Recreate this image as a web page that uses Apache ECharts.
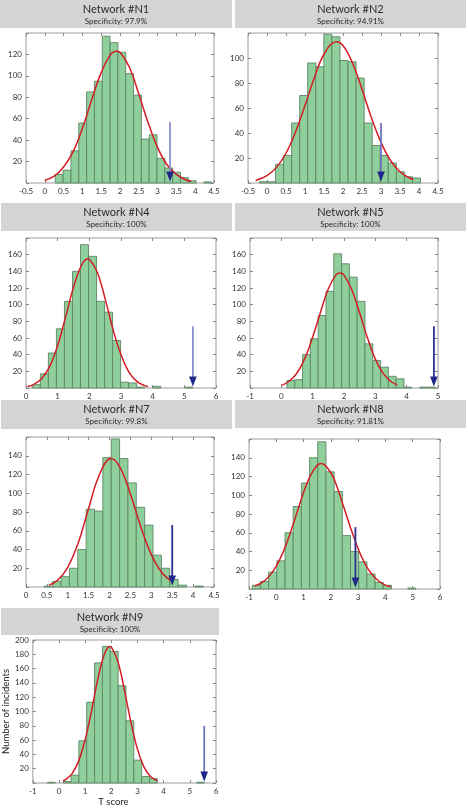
<!DOCTYPE html>
<html><head><meta charset="utf-8">
<script src="https://cdn.jsdelivr.net/npm/echarts@6/dist/echarts.min.js"></script>
<style>html,body{margin:0;padding:0;background:#fff}#c{width:468px;height:808px}</style>
</head><body><div id="c"></div>
<script>
// ---------- DATA ----------
const panelTitles = ['Network #N1','Network #N2','Network #N4','Network #N5','Network #N7','Network #N8','Network #N9'];
const panelSpecificity = ['Specificity: 97.9%','Specificity: 94.91%','Specificity: 100%','Specificity: 100%','Specificity: 99.8%','Specificity: 91.81%','Specificity: 100%'];

// histogram counts (bin start, bin width in T score units)
const n1Counts = [8,12,30,56,85,95,137,131,122,102,82,41,45,23,14,10,5,2,0,1];
const n1Bins = [0.28, 0.208];
const n2Counts = [1,1,15,22,48,70,96,93,119,117,98,97,84,48,30,22,16,9,5,4];
const n2Bins = [-0.2, 0.212];
const n4Counts = [4,17,42,71,104,140,172,158,104,91,57,7,6,1,0,2,0,0,0,1];
const n4Bins = [0.2, 0.2535];
const n5Counts = [9,10,40,59,87,116,161,149,133,104,53,33,25,14,11,1,0,1,1];
const n5Bins = [0.18, 0.249];
const n7Counts = [1,6,11,20,40,83,81,138,158,137,111,85,66,34,20,8,2,0,1];
const n7Bins = [0.44, 0.2];
const n8Counts = [4,8,18,30,60,88,113,140,157,125,104,57,40,29,16,7,4,0,0,1];
const n8Bins = [-0.88, 0.3];
const n9Counts = [1,0,2,11,59,113,168,191,184,136,87,32,9,6,0,0,0,0,0,1];
const n9Bins = [-0.44, 0.3];

// fitted normal curves [T score, count]
const n1Curve = [[0,2.5],[0.25,6.4],[0.5,15],[0.75,29],[1,51],[1.25,78],[1.5,103],[1.75,120],[1.9,123],[2,122],[2.25,108],[2.5,83],[2.75,56],[3,33],[3.25,17],[3.5,8],[3.75,3],[3.9,1.6]];
const n2Curve = [[-0.3,2],[0,5.9],[0.25,12.5],[0.5,23.8],[0.75,40.6],[1,62],[1.25,84.5],[1.5,103],[1.82,113],[2,110],[2.25,96],[2.5,75],[2.75,52],[3,32.5],[3.25,18],[3.5,9],[3.75,4],[3.85,2.8]];
const n4Curve = [[0.05,1.8],[0.25,4.4],[0.5,11.5],[0.75,26],[1,51],[1.25,85],[1.5,121],[1.75,147],[1.95,155],[2,154.5],[2.25,139],[2.5,107],[2.75,70],[3,40],[3.25,19],[3.5,8],[3.75,2.8],[3.85,1.8]];
const n5Curve = [[0,3.1],[0.25,8.1],[0.5,18],[0.75,35.6],[1,61],[1.25,91],[1.5,119],[1.75,136],[1.87,138],[2,135.5],[2.25,118],[2.5,90],[2.75,60],[3,34.7],[3.25,17.6],[3.5,7.8],[3.7,3.7]];
const n7Curve = [[0.55,2],[0.75,7],[1,21],[1.25,47],[1.5,84],[1.75,119],[2.03,137],[2.25,127.6],[2.5,99],[2.75,64],[3,34.5],[3.25,15.5],[3.5,5.8]];
const n8Curve = [[-0.8,3.1],[-0.5,7.4],[-0.25,14],[0,24.4],[0.25,39.3],[0.5,58.6],[0.75,80.7],[1,103],[1.25,121],[1.5,132],[1.65,134],[2,124],[2.25,107],[2.5,85],[2.75,63],[3,43],[3.25,27],[3.5,15.7],[3.75,8.5],[4,4.2],[4.2,2.3]];
const n9Curve = [[0.15,3.1],[0.25,4.8],[0.5,13.2],[0.75,30.6],[1,60.6],[1.25,102],[1.5,148],[1.75,181.5],[1.95,191],[2,190.4],[2.25,170],[2.5,130],[2.75,84.6],[3,47],[3.25,22.3],[3.5,9],[3.75,3.1]];

// observed T score arrows [T score, arrow top count]
const n1Arrow = [3.33, 57];
const n2Arrow = [3.0, 48];
const n4Arrow = [5.27, 74];
const n5Arrow = [4.87, 74];
const n7Arrow = [3.5, 66];
const n8Arrow = [2.9, 66];
const n9Arrow = [5.55, 80];

// axis ranges [min, max, interval]
const xRanges = [[-0.5,4.5,0.5],[-0.5,4.5,0.5],[0,6,1],[-1,5,1],[0,4.5,0.5],[-1,6,1],[-1,6,1]];
const yMaxes = [140,120,180,180,160,160,200];
const yLabelTop = [false,false,false,false,false,false,true];

const xAxisName = 'T score';
const yAxisName = 'Number of incidents';

// ---------- LAYOUT / STYLE ----------
const FONT = 'Lato';
const grids = [
  {left:26, top:33, width:188, height:150},
  {left:248, top:33, width:190, height:150},
  {left:26, top:238, width:190, height:150},
  {left:250, top:238, width:188, height:150},
  {left:26, top:437, width:188, height:150},
  {left:249, top:439, width:191, height:150},
  {left:26, top:640, width:190, height:149}
];
const headers = [
  {x:0, y:0, w:232, h:28},
  {x:235, y:0, w:231, h:28},
  {x:1, y:203, w:231, h:28},
  {x:235, y:203, w:231, h:28},
  {x:1, y:400, w:231, h:29},
  {x:235, y:400, w:231, h:28},
  {x:1, y:608, w:218, h:27}
];
const shaftColors = ['#8c91cc','#6f75bd','#8a8fcb','#2c328f','#262d8a','#2d3391','#6f74c0'];

const counts = [n1Counts,n2Counts,n4Counts,n5Counts,n7Counts,n8Counts,n9Counts];
const bins = [n1Bins,n2Bins,n4Bins,n5Bins,n7Bins,n8Bins,n9Bins];
const curves = [n1Curve,n2Curve,n4Curve,n5Curve,n7Curve,n8Curve,n9Curve];
const arrows = [n1Arrow,n2Arrow,n4Arrow,n5Arrow,n7Arrow,n8Arrow,n9Arrow];

function barRender(params, api){
  const x0 = api.value(0), x1 = api.value(1), v = api.value(2);
  const p0 = api.coord([x0, v]);
  const p1 = api.coord([x1, 0]);
  return {type:'rect', shape:{x:p0[0], y:p0[1], width:p1[0]-p0[0], height:p1[1]-p0[1]},
    style:{fill:'#8fcf9c', stroke:'#5d8464', lineWidth:0.9}};
}
function makeArrowRender(color){
  return function(params, api){
    const x = api.value(0), top = api.value(1);
    const pt = api.coord([x, top]);
    const pb = api.coord([x, 0]);
    const tipY = pb[1]-1.5, headH = 10, headW = 3.8;
    return {type:'group', children:[
      {type:'line', shape:{x1:pt[0], y1:pt[1], x2:pt[0], y2:tipY-headH+1}, style:{stroke:color, lineWidth:1.8}},
      {type:'polygon', shape:{points:[[pt[0]-headW, tipY-headH],[pt[0]+headW, tipY-headH],[pt[0], tipY]]}, style:{fill:'#1f2889'}}
    ]};
  };
}

const tickStyle = {inside:true, length:3, lineStyle:{color:'#888'}};
const option = {animation:false, grid:[], xAxis:[], yAxis:[], series:[], graphic:[]};

for (let i=0;i<7;i++){
  const g = grids[i];
  option.grid.push({left:g.left, top:g.top, width:g.width, height:g.height, show:true, borderColor:'#9c9c9c', borderWidth:1, backgroundColor:'transparent'});
  const xr = xRanges[i];
  const xa = {type:'value', gridIndex:i, position:'bottom', min:xr[0], max:xr[1], interval:xr[2],
    axisLine:{show:false, onZero:false}, splitLine:{show:false},
    axisTick:tickStyle,
    axisLabel:{fontSize:8, color:'#333', margin:4, fontFamily:FONT}};
  const ymax = yMaxes[i], showTop = yLabelTop[i];
  const ya = {type:'value', gridIndex:i, position:'left', min:0, max:ymax, interval:20,
    axisLine:{show:false, onZero:false}, splitLine:{show:false},
    axisTick:tickStyle,
    axisLabel:{fontSize:8, color:'#333', margin:4, fontFamily:FONT,
      formatter: v => (v===0 || (v===ymax && !showTop)) ? '' : String(v)}};
  if (i===6){
    xa.name = xAxisName; xa.nameLocation='middle'; xa.nameGap=14;
    xa.nameTextStyle = {fontSize:9.5, color:'#222', fontFamily:FONT, padding:[0,22,0,0]};
    ya.name = yAxisName; ya.nameLocation='middle'; ya.nameGap=17;
    ya.nameTextStyle = {fontSize:9.5, color:'#222', fontFamily:FONT};
  }
  option.xAxis.push(xa);
  option.yAxis.push(ya);
}
// mirrored ticks on top / right
for (let i=0;i<7;i++){
  const xr = xRanges[i];
  option.xAxis.push({type:'value', gridIndex:i, position:'top', min:xr[0], max:xr[1], interval:xr[2],
    axisLine:{show:false, onZero:false}, splitLine:{show:false}, axisLabel:{show:false}, axisTick:tickStyle});
  option.yAxis.push({type:'value', gridIndex:i, position:'right', min:0, max:yMaxes[i], interval:20,
    axisLine:{show:false, onZero:false}, splitLine:{show:false}, axisLabel:{show:false}, axisTick:tickStyle});
}

for (let i=0;i<7;i++){
  const c = counts[i], b = bins[i];
  const barData = [];
  c.forEach((v,k)=>{ if (v>0) barData.push([b[0]+k*b[1], b[0]+(k+1)*b[1], v]); });
  option.series.push({type:'custom', xAxisIndex:i, yAxisIndex:i, renderItem:barRender,
    encode:{x:[0,1], y:2}, data:barData, z:2});
  option.series.push({type:'line', xAxisIndex:i, yAxisIndex:i, data:curves[i], smooth:0.4,
    showSymbol:false, symbol:'none', lineStyle:{color:'#d21e24', width:1.5}, z:3});
  option.series.push({type:'custom', xAxisIndex:i, yAxisIndex:i, renderItem:makeArrowRender(shaftColors[i]),
    encode:{x:0, y:1}, data:[arrows[i]], z:4});

  const h = headers[i];
  option.graphic.push({type:'rect', shape:{x:h.x, y:h.y, width:h.w, height:h.h}, style:{fill:'#d4d4d4'}, z:0});
  option.graphic.push({type:'text', x:h.x+h.w/2, y:h.y+9.5,
    style:{text:panelTitles[i], fontSize:11, fontFamily:FONT, fill:'#2a2a2a', align:'center', verticalAlign:'middle'}});
  option.graphic.push({type:'text', x:h.x+h.w/2, y:h.y+21.5,
    style:{text:panelSpecificity[i], fontSize:8, fontFamily:FONT, fill:'#2a2a2a', align:'center', verticalAlign:'middle'}});
}

const chart = echarts.init(document.getElementById('c'), null, {renderer:'canvas'});
chart.setOption(option);
</script>
</body></html>
